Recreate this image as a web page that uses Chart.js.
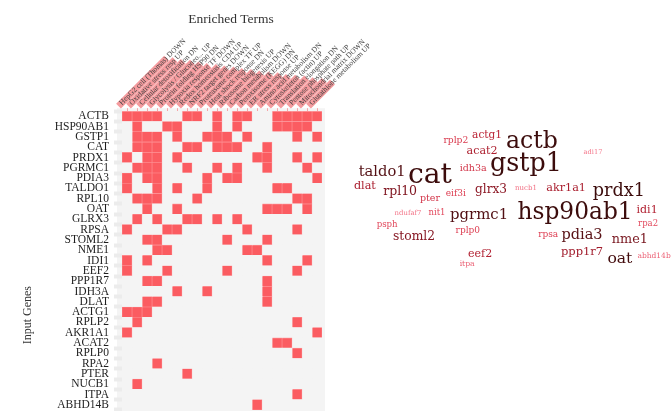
<!DOCTYPE html>
<html><head><meta charset="utf-8">
<script src="https://cdn.jsdelivr.net/npm/chart.js@4/dist/chart.umd.min.js"></script>
<style>
html,body{margin:0;padding:0;background:#fff;overflow:hidden;width:672px;height:411px;}
#heatWrap{position:absolute;left:0;top:0;width:462px;height:411px;}
#cloudWrap{position:absolute;left:340px;top:0;width:332px;height:411px;}
</style></head><body>
<div id="heatWrap"><canvas id="heat"></canvas></div>
<div id="cloudWrap"><canvas id="cloud"></canvas></div>
<script>
// ---------- heatmap data ----------
const genes = ["ACTB","HSP90AB1","GSTP1","CAT","PRDX1","PGRMC1","PDIA3","TALDO1","RPL10","OAT",
  "GLRX3","RPSA","STOML2","NME1","IDI1","EEF2","PPP1R7","IDH3A","DLAT","ACTG1","RPLP2","AKR1A1",
  "ACAT2","RPLP0","RPA2","PTER","NUCB1","ITPA","ABHD14B"];

const terms = ["HepG2 cell (Thomas) DOWN","Oxidative stress resp UP","Cellular detoxification DN",
  "Glycolysis / Gluconeo... UP","Protein folding HSP90 DN","Hypoxia response TF DOWN",
  "Redox homeostasis CD4 UP","NRF2 target genes DOWN","Proteasome complex TF UP",
  "Heat shock response DN","Ribosome biogenesis UP","Carbon metabolism DOWN",
  "Peroxisome (KEGG) DN","ER stress response UP","Amino acid metabolism DN",
  "Cytoskeleton (actin) UP","Translation elongation DN","Pentose phosphate path UP",
  "Mitochondrial matrix DOWN","Glutathione metabolism UP"];

// enrichment score of each term (drawn as the pink bar behind its label)
const termScores = [5.8,5.6,5.4,5.3,5.1,4.9,4.8,4.6,4.5,4.3,4.2,4.0,3.9,3.8,3.6,3.5,3.4,3.2,3.1,2.9];

// for each gene, indices of the terms it belongs to
const geneTermIdx = [
  [0,1,2,3,6,7,9,11,12,15,16,17,18,19],
  [1,4,5,9,11,15,16,17,18],
  [1,2,3,5,8,9,10,12,17,19],
  [1,2,3,6,7,9,10,11,14],
  [0,2,3,5,13,14,17,19],
  [1,2,3,6,9,11,14,18],
  [0,2,3,8,10,11,19],
  [0,3,5,8,15,16],
  [1,2,3,7,17,18],
  [2,5,14,15,16,18],
  [1,3,6,7,9,11],
  [0,4,5,12,17],
  [2,3,10,14],
  [3,4,12,13],
  [0,2,14,18],
  [0,4,10,17],
  [2,3,14],
  [5,8,14],
  [2,3,14],
  [0,1,2],
  [1,17],
  [0,19],
  [15,16],
  [17],
  [3],
  [6],
  [1],
  [17],
  [13]
];

// ---------- word cloud data ----------
const words = ["rplp2","actg1","actb","adi17","acat2","taldo1","cat","idh3a","gstp1","dlat",
  "rpl10","pter","eif3i","glrx3","nucb1","akr1a1","prdx1","ndufaf7","nit1","pgrmc1",
  "hsp90ab1","idi1","psph","rplp0","stoml2","rpsa","pdia3","nme1","rpa2","eef2",
  "itpa","ppp1r7","oat","abhd14b"];
const wordWeights = [2.6,3.3,9.8,1.35,3.55,5.35,12.1,2.75,10.7,3.6,
  4.25,2.75,2.5,4.05,1.5,3.6,6.8,1.45,2.25,5.45,
  9.65,3.5,2.3,2.5,4.15,2.5,5.25,4.4,2.25,3.5,
  1.85,3.75,5.8,1.75];
// layout position of each word in a 0-100 cloud space
const wordX = [34.9,44.3,57.8,76.2,42.8,12.7,27.1,40.1,56.0,7.5,
  18.1,27.1,34.9,45.5,56.0,68.1,84.0,20.5,29.2,41.9,
  70.8,92.5,14.2,38.5,22.3,62.7,72.9,87.3,92.8,42.2,
  38.3,72.9,84.3,94.6];
const wordY = [34.3,32.8,34.5,37.0,36.7,41.8,42.8,41.1,40.1,45.3,
  46.7,48.4,47.0,46.2,45.7,45.7,46.5,51.8,51.8,52.3,
  51.8,51.1,54.7,56.2,57.7,57.2,57.2,58.2,54.5,61.8,
  64.2,61.3,63.0,62.3];

// ---------- styles ----------
const RED = '#fb5c61', GREY = '#f4f4f4', PINK = '#f59b9e';
const member = genes.map((g, i) => new Set(geneTermIdx[i]));
const isOn = (ctx, j) => member[ctx.dataIndex] && member[ctx.dataIndex].has(j);

const datasets = terms.map((t, j) => ({
  label: t,
  data: genes.map(() => 1),
  backgroundColor: ctx => isOn(ctx, j) ? RED : GREY,
  borderColor: ctx => isOn(ctx, j) ? '#ff9598' : GREY,
  borderWidth: ctx => isOn(ctx, j) ? 0.6 : 0,
  borderSkipped: false,
  barPercentage: 1,
  categoryPercentage: 1
}));

const heatDecor = {
  id: 'heatDecor',
  beforeDraw(chart) {
    const {ctx, chartArea: a} = chart;
    ctx.save();
    ctx.fillStyle = GREY;
    ctx.fillRect(a.left - 5, a.top - 3, a.right - a.left + 8, chart.height - a.top + 3);
    // score bars behind the term labels
    const s = chart.scales.x2;
    const items = s.getLabelItems();
    const maxS = Math.max(...termScores);
    items.forEach((it, i) => {
      const o = it.options;
      ctx.save();
      ctx.translate(o.translation[0], o.translation[1]);
      ctx.rotate(o.rotation);
      ctx.fillStyle = PINK;
      const len = termScores[i] / maxS * 68;
      ctx.fillRect(-3, it.textOffset - 3.4, len, 6.8);
      ctx.restore();
    });
    ctx.restore();
  },
  afterDraw(chart) {
    const {ctx} = chart;
    const y = chart.scales.y;
    ctx.save();
    ctx.translate(28, y.getPixelForValue(19.3));
    ctx.rotate(-Math.PI / 2);
    ctx.font = '12px "Liberation Serif"';
    ctx.fillStyle = '#333';
    ctx.textAlign = 'center';
    ctx.textBaseline = 'middle';
    ctx.fillText('Input Genes', 0, 0);
    ctx.restore();
  }
};

new Chart(document.getElementById('heat'), {
  type: 'bar',
  data: { labels: genes, datasets },
  options: {
    indexAxis: 'y',
    responsive: true, maintainAspectRatio: false, animation: false, events: [],
    layout: { padding: { left: 0, right: 0, top: 0, bottom: 1 } },
    plugins: {
      legend: { display: false }, tooltip: { enabled: false },
      title: { display: true, text: 'Enriched Terms', color: '#333',
        font: { family: 'Liberation Serif', size: 13.5, weight: 'normal' },
        padding: { top: 11, bottom: 0 } }
    },
    scales: {
      x: { type: 'linear', stacked: true, min: 0, max: terms.length, display: false },
      x2: { type: 'category', position: 'top', labels: terms, offset: true,
        grid: { display: true, drawOnChartArea: false, drawTicks: true, tickLength: 3, tickColor: '#f7a3a6', tickWidth: 1 },
        border: { display: false },
        ticks: { autoSkip: false, minRotation: 45, maxRotation: 45, padding: 1,
          font: { family: 'Liberation Serif', size: 7.5 }, color: '#444' },
        afterFit: s => { s.height = 84; s.paddingLeft = 0; s.paddingRight = 140; } },
      y: { type: 'category', stacked: true, offset: true,
        grid: { display: true, drawOnChartArea: false, drawTicks: true, tickLength: 8, tickWidth: 4, tickColor: '#ececec' },
        border: { display: false },
        ticks: { autoSkip: false, padding: 5, font: { family: 'Liberation Serif', size: 11.5 }, color: '#1e1e1e' },
        afterFit: s => { s.width = 122; s.paddingTop = 0; s.paddingBottom = 0; } }
    }
  },
  plugins: [heatDecor]
});

// ---------- word cloud ----------
function fontSizeFor(w) { return 4 + 2 * w; }
function colorFor(w) {
  const stops = [[0,[245,120,140]],[0.25,[222,62,82]],[0.45,[182,32,50]],[0.65,[122,22,32]],[1,[60,12,12]]];
  let t = Math.max(0, Math.min(1, (w - 1.3) / 4.7));
  for (let k = 1; k < stops.length; k++) {
    if (t <= stops[k][0]) {
      const [t0, c0] = stops[k-1], [t1, c1] = stops[k];
      const f = (t - t0) / (t1 - t0);
      const c = c0.map((v, n) => Math.round(v + (c1[n] - v) * f));
      return `rgb(${c[0]},${c[1]},${c[2]})`;
    }
  }
  return 'rgb(60,12,12)';
}
const wordPlugin = {
  id: 'words',
  afterDatasetsDraw(chart) {
    const {ctx} = chart;
    const meta = chart.getDatasetMeta(0);
    ctx.save();
    ctx.textAlign = 'center';
    ctx.textBaseline = 'middle';
    meta.data.forEach((pt, i) => {
      ctx.font = fontSizeFor(wordWeights[i]) + 'px "DejaVu Serif"';
      ctx.fillStyle = colorFor(wordWeights[i]);
      ctx.fillText(words[i], pt.x, pt.y);
    });
    ctx.restore();
  }
};
new Chart(document.getElementById('cloud'), {
  type: 'scatter',
  data: { datasets: [{ label: 'words', data: words.map((w, i) => ({ x: wordX[i], y: wordY[i] })),
    pointRadius: 0, pointHoverRadius: 0 }] },
  options: {
    responsive: true, maintainAspectRatio: false, animation: false, events: [],
    layout: { padding: 0 },
    plugins: { legend: { display: false }, tooltip: { enabled: false } },
    scales: {
      x: { type: 'linear', min: 0, max: 100, display: false },
      y: { type: 'linear', min: 0, max: 100, reverse: true, display: false }
    }
  },
  plugins: [wordPlugin]
});
</script>
</body></html>
